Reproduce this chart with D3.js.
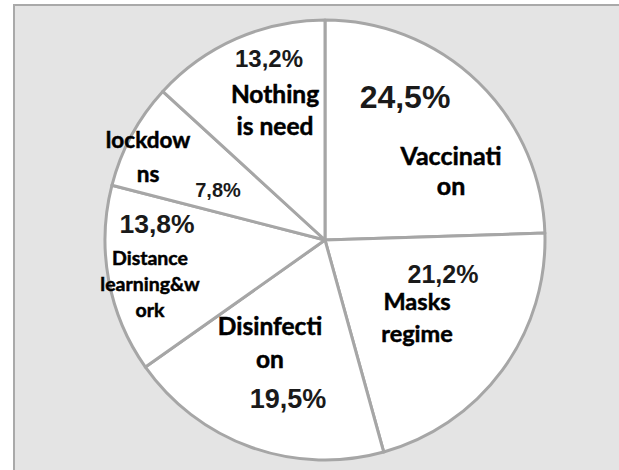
<!DOCTYPE html>
<html>
<head>
<meta charset="utf-8">
<script src="https://cdn.jsdelivr.net/npm/d3@7"></script>
<style>
  html, body { margin: 0; padding: 0; background: #ffffff; }
  svg { display: block; }
</style>
</head>
<body>
<div id="chart"></div>
<script>
// ---- data ----
const categories = ["Vaccination", "Masks regime", "Disinfection", "Distance learning&work", "lockdowns", "Nothing is need"];
const values = [24.5, 21.2, 19.5, 13.8, 7.8, 13.2];
const valueLabels = ["24,5%", "21,2%", "19,5%", "13,8%", "7,8%", "13,2%"];
const nameLines = [
  ["Vaccinati", "on"],
  ["Masks", "regime"],
  ["Disinfecti", "on"],
  ["Distance", "learning&w", "ork"],
  ["lockdow", "ns"],
  ["Nothing", "is need"]
];

// ---- layout / styles (offsets from pie centre, px) ----
const W = 619, H = 470;
const cx = 325, cy = 240, R = 220;
const pctStyle = [
  { dx: 80, dy: -132, size: 32 },
  { dx: 118, dy: 43, size: 25 },
  { dx: -37, dy: 168, size: 27 },
  { dx: -168, dy: -7, size: 26.5 },
  { dx: -107, dy: -43, size: 20 },
  { dx: -56, dy: -173, size: 24 }
];
const nameStyle = [
  { dx: 126, dy: -75, size: 25, lh: 30 },
  { dx: 92, dy: 70, size: 23.5, lh: 32 },
  { dx: -55, dy: 95, size: 24.5, lh: 33 },
  { dx: -175, dy: 25, size: 19.5, lh: 26 },
  { dx: -177, dy: -92, size: 22.5, lh: 34 },
  { dx: -50, dy: -137, size: 24.5, lh: 32 }
];

const svg = d3.select("#chart").append("svg")
  .attr("width", W).attr("height", H);

// panel background
svg.append("rect")
  .attr("x", 14).attr("y", 5)
  .attr("width", W + 20).attr("height", H + 20)
  .attr("fill", "#e4e4e4")
  .attr("stroke", "#a9a9a9")
  .attr("stroke-width", 2);

const pie = d3.pie().sort(null).value(d => d)
  .startAngle(0).endAngle(2 * Math.PI);
const arcs = pie(values);
const arc = d3.arc().innerRadius(0).outerRadius(R);

const g = svg.append("g").attr("transform", `translate(${cx},${cy})`);

g.selectAll("path.slice")
  .data(arcs)
  .join("path")
  .attr("class", "slice")
  .attr("d", arc)
  .attr("fill", "#ffffff")
  .attr("stroke", "#a6a6a6")
  .attr("stroke-width", 3)
  .attr("stroke-linejoin", "round");

// percentage labels
g.selectAll("text.pct")
  .data(arcs)
  .join("text")
  .attr("class", "pct")
  .attr("x", (d, i) => pctStyle[i].dx)
  .attr("y", (d, i) => pctStyle[i].dy)
  .attr("text-anchor", "middle")
  .attr("font-family", "'Liberation Sans', Arial, sans-serif")
  .attr("font-weight", "bold")
  .attr("font-size", (d, i) => pctStyle[i].size)
  .attr("fill", "#1a1a1a")
  .text((d, i) => valueLabels[i]);

// category labels
const names = g.selectAll("text.name")
  .data(arcs)
  .join("text")
  .attr("class", "name")
  .attr("text-anchor", "middle")
  .attr("font-family", "Lato, 'Open Sans', sans-serif")
  .attr("font-weight", "bold")
  .attr("font-size", (d, i) => nameStyle[i].size)
  .attr("fill", "#000000")
  .attr("stroke", "#000000")
  .attr("stroke-width", 0.5);

names.each(function (d, i) {
  const t = d3.select(this);
  nameLines[i].forEach((line, j) => {
    t.append("tspan")
      .attr("x", nameStyle[i].dx)
      .attr("y", nameStyle[i].dy + j * nameStyle[i].lh)
      .text(line);
  });
});
</script>
</body>
</html>
